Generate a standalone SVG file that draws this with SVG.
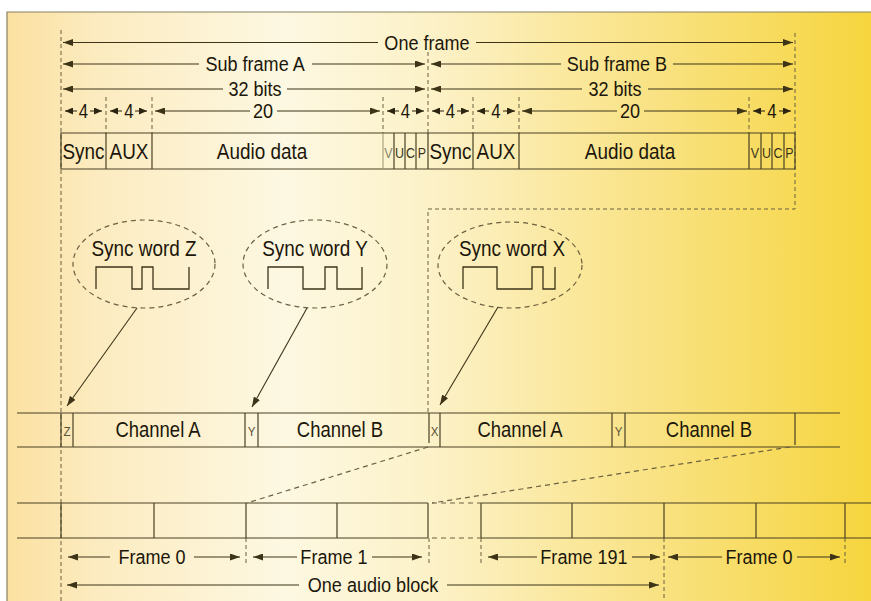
<svg xmlns="http://www.w3.org/2000/svg" width="871" height="601" viewBox="0 0 871 601">
<defs>
  <linearGradient id="bg" x1="0" y1="0" x2="1" y2="0">
    <stop offset="0" stop-color="#fbe0a0"/>
    <stop offset="0.1" stop-color="#fcebbf"/>
    <stop offset="0.32" stop-color="#fdf8e2"/>
    <stop offset="0.5" stop-color="#fcf1c6"/>
    <stop offset="0.75" stop-color="#f9e283"/>
    <stop offset="1" stop-color="#f6d53e"/>
  </linearGradient>
  <marker id="ah" viewBox="0 0 10 7" refX="10" refY="3.5" markerWidth="10" markerHeight="7" markerUnits="userSpaceOnUse" orient="auto-start-reverse">
    <path d="M0,0 L10,3.5 L0,7 z" fill="#3d3418"/>
  </marker>
  <marker id="ahs" viewBox="0 0 8 7" refX="8" refY="3.5" markerWidth="8" markerHeight="7" markerUnits="userSpaceOnUse" orient="auto-start-reverse">
    <path d="M0,0 L8,3.5 L0,7 z" fill="#2a2410"/>
  </marker>
</defs>
<style>
  text { font-family: 'Liberation Sans', Arial, sans-serif; fill: #1c170b; text-anchor: middle;
         transform-box: fill-box; transform-origin: center; transform: scaleX(0.86); }
  .big { font-size: 21px; }
  .bar { font-size: 22px; }
  .four { font-size: 19.5px; }
  .sw { font-size: 22px; }
  .ch { font-size: 21.5px; }
  .sm { font-size: 13.5px; fill: #5a5338; }
  .vucp { font-size: 14.5px; fill: #3a3320; }
  .ln { stroke: #4a4124; stroke-width: 1.2; fill: none; }
  .arr { stroke: #3d3418; stroke-width: 1.1; fill: none; }
  .dash { stroke: #6b6040; stroke-width: 1; stroke-dasharray: 4 3; fill: none; }
  .dash2 { stroke: #6b6040; stroke-width: 1.2; stroke-dasharray: 5 4; fill: none; }
  .wave { stroke: #3d3418; stroke-width: 1.3; fill: none; }
</style>

<rect x="0" y="0" width="871" height="601" fill="#ffffff"/>
<rect x="7" y="12" width="864" height="589" fill="url(#bg)"/>
<path d="M7,601 V12 H871" stroke="#8a8260" stroke-width="1.2" fill="none"/>

<!-- guide dashed lines -->
<g id="guides">
  <path class="dash" d="M61,30 V601"/>
  <path class="dash" d="M428,52 V133"/>
  <path class="dash" d="M795,33 V209 H428 V413"/>
  <path class="dash" d="M106,97 V133 M152,97 V133 M383,97 V133 M473,97 V133 M519,97 V133 M749,97 V133"/>
  <path class="dash" d="M246,538 V565 M429,538 V565 M481,538 V565 M664,538 V601 M845,538 V565"/>
</g>

<!-- dimension arrows -->
<g id="dimensions">
  <path class="arr" marker-start="url(#ah)" d="M63,42.5 H378"/>
  <path class="arr" marker-end="url(#ah)" d="M476,42.5 H793"/>
  <text class="big" x="427" y="50">One frame</text>

  <path class="arr" marker-start="url(#ah)" d="M63,64 H199"/>
  <path class="arr" marker-end="url(#ah)" d="M312,64 H425"/>
  <text class="big" x="255" y="71.5">Sub frame A</text>
  <path class="arr" marker-start="url(#ah)" d="M431,64 H561"/>
  <path class="arr" marker-end="url(#ah)" d="M673,64 H793"/>
  <text class="big" x="617" y="71.5">Sub frame B</text>

  <path class="arr" marker-start="url(#ah)" d="M63,89 H223"/>
  <path class="arr" marker-end="url(#ah)" d="M287,89 H425"/>
  <text class="big" x="255" y="96.5">32 bits</text>
  <path class="arr" marker-start="url(#ah)" d="M431,89 H582"/>
  <path class="arr" marker-end="url(#ah)" d="M648,89 H793"/>
  <text class="big" x="615" y="96.5">32 bits</text>

  <path class="arr" marker-start="url(#ah)" d="M155,111 H250"/>
  <path class="arr" marker-end="url(#ah)" d="M277,111 H380"/>
  <text class="big" x="263" y="118.5">20</text>
  <path class="arr" marker-start="url(#ah)" d="M522,111 H617"/>
  <path class="arr" marker-end="url(#ah)" d="M644,111 H747"/>
  <text class="big" x="630" y="118.5">20</text>

  <!-- 4 bit fields -->
  <path class="arr" marker-start="url(#ahs)" d="M65,111 H77"/><path class="arr" marker-end="url(#ahs)" d="M90,111 H102"/>
  <text class="four" x="83.5" y="118">4</text>
  <path class="arr" marker-start="url(#ahs)" d="M110,111 H122"/><path class="arr" marker-end="url(#ahs)" d="M135,111 H147"/>
  <text class="four" x="129" y="118">4</text>
  <path class="arr" marker-start="url(#ahs)" d="M387,111 H399"/><path class="arr" marker-end="url(#ahs)" d="M412,111 H424"/>
  <text class="four" x="405.5" y="118">4</text>
  <path class="arr" marker-start="url(#ahs)" d="M432,111 H444"/><path class="arr" marker-end="url(#ahs)" d="M457,111 H469"/>
  <text class="four" x="450.5" y="118">4</text>
  <path class="arr" marker-start="url(#ahs)" d="M477,111 H489"/><path class="arr" marker-end="url(#ahs)" d="M503,111 H515"/>
  <text class="four" x="496" y="118">4</text>
  <path class="arr" marker-start="url(#ahs)" d="M753,111 H765"/><path class="arr" marker-end="url(#ahs)" d="M779,111 H791"/>
  <text class="four" x="772" y="118">4</text>
</g>

<!-- subframe bar -->
<g id="subframe-bar">
  <path class="ln" d="M61,133 H795 V169 H61 Z"/>
  <path class="ln" d="M106,133 V169 M152,133 V169 M394,133 V169 M405,133 V169 M416,133 V169 M428,133 V169 M473,133 V169 M519,133 V169 M749,133 V169 M761,133 V169 M772,133 V169 M784,133 V169"/>
  <path stroke="#9a9270" stroke-width="1" d="M383,133 V169"/>
  <text class="bar" x="83.5" y="159.5">Sync</text>
  <text class="bar" x="129" y="159.5">AUX</text>
  <text class="bar" x="262" y="159.5">Audio data</text>
  <text class="vucp" x="388.5" y="158" style="fill:#8a8468">V</text>
  <text class="vucp" x="399.5" y="158">U</text>
  <text class="vucp" x="410.5" y="158">C</text>
  <text class="vucp" x="422" y="158">P</text>
  <text class="bar" x="450.5" y="159.5">Sync</text>
  <text class="bar" x="496" y="159.5">AUX</text>
  <text class="bar" x="630" y="159.5">Audio data</text>
  <text class="vucp" x="755" y="158">V</text>
  <text class="vucp" x="766.5" y="158">U</text>
  <text class="vucp" x="778" y="158">C</text>
  <text class="vucp" x="789.5" y="158">P</text>
</g>

<!-- sync words -->
<g id="sync-z">
  <ellipse class="dash2" cx="144" cy="264" rx="71" ry="44"/>
  <text class="sw" x="144" y="256">Sync word Z</text>
  <path class="wave" d="M96,289 V267 H132 V289 H142 V267 H153 V289 H189 V267"/>
</g>
<g id="sync-y">
  <ellipse class="dash2" cx="315" cy="264" rx="72" ry="44"/>
  <text class="sw" x="315" y="256">Sync word Y</text>
  <path class="wave" d="M268,289 V267 H303 V289 H325 V267 H337 V289 H362 V267"/>
</g>
<g id="sync-x">
  <ellipse class="dash2" cx="510" cy="265" rx="72" ry="43"/>
  <text class="sw" x="512" y="256">Sync word X</text>
  <path class="wave" d="M463,289 V267 H497 V289 H532 V267 H543 V289 H555 V267"/>
</g>

<!-- channel row -->
<g id="channel-row">
  <path class="ln" d="M17,413 H840 M17,447 H840"/>
  <path class="ln" d="M61,413 V447 M73,413 V447 M245,413 V447 M258,413 V447 M429,413 V443 M440,413 V447 M612,413 V447 M625,413 V447 M795,413 V445"/>
  <text class="sm" x="67" y="436">Z</text>
  <text class="ch" x="158" y="437.5">Channel A</text>
  <text class="sm" x="251.5" y="436">Y</text>
  <text class="ch" x="340" y="437.5">Channel B</text>
  <text class="sm" x="434.5" y="436">X</text>
  <text class="ch" x="520" y="437.5">Channel A</text>
  <text class="sm" x="618.5" y="436">Y</text>
  <text class="ch" x="709" y="437.5">Channel B</text>
</g>

<!-- frame row -->
<g id="frame-row">
  <path class="ln" d="M17,503 H428 M17,538 H428 M481,503 H871 M481,538 H871"/>
  <path class="ln" d="M61,503 V538 M154,503 V538 M246,503 V538 M337,503 V538 M428,503 V538 M481,503 V538 M572,503 V538 M664,503 V538 M756,503 V538 M845,503 V538"/>
  <path class="dash2" d="M432,503 H481 M432,538 H481"/>
</g>

<!-- connectors -->
<g id="connectors">
  <path class="arr" marker-end="url(#ah)" d="M137,308 L67,406"/>
  <path class="arr" marker-end="url(#ah)" d="M307,308 L252,407"/>
  <path class="arr" marker-end="url(#ah)" d="M498,307 L440,405"/>
  <path class="dash2" d="M428,447 L247,503"/>
  <path class="dash2" d="M790,447 L432,503"/>
</g>

<!-- frame labels -->
<g id="frame-labels">
  <path class="arr" marker-start="url(#ah)" d="M68,557 H110"/>
  <path class="arr" marker-end="url(#ah)" d="M194,557 H240"/>
  <text class="big" x="152" y="564.5">Frame 0</text>
  <path class="arr" marker-start="url(#ah)" d="M253,557 H297"/>
  <path class="arr" marker-end="url(#ah)" d="M372,557 H422"/>
  <text class="big" x="334" y="564.5">Frame 1</text>
  <path class="arr" marker-start="url(#ah)" d="M488,557 H537"/>
  <path class="arr" marker-end="url(#ah)" d="M632,557 H660"/>
  <text class="big" x="584" y="564.5">Frame 191</text>
  <path class="arr" marker-start="url(#ah)" d="M668,557 H722"/>
  <path class="arr" marker-end="url(#ah)" d="M797,557 H840"/>
  <text class="big" x="759" y="564.5">Frame 0</text>
  <path class="arr" marker-start="url(#ah)" d="M67,585 H299"/>
  <path class="arr" marker-end="url(#ah)" d="M447,585 H659"/>
  <text class="big" x="373" y="592.5">One audio block</text>
</g>
</svg>
